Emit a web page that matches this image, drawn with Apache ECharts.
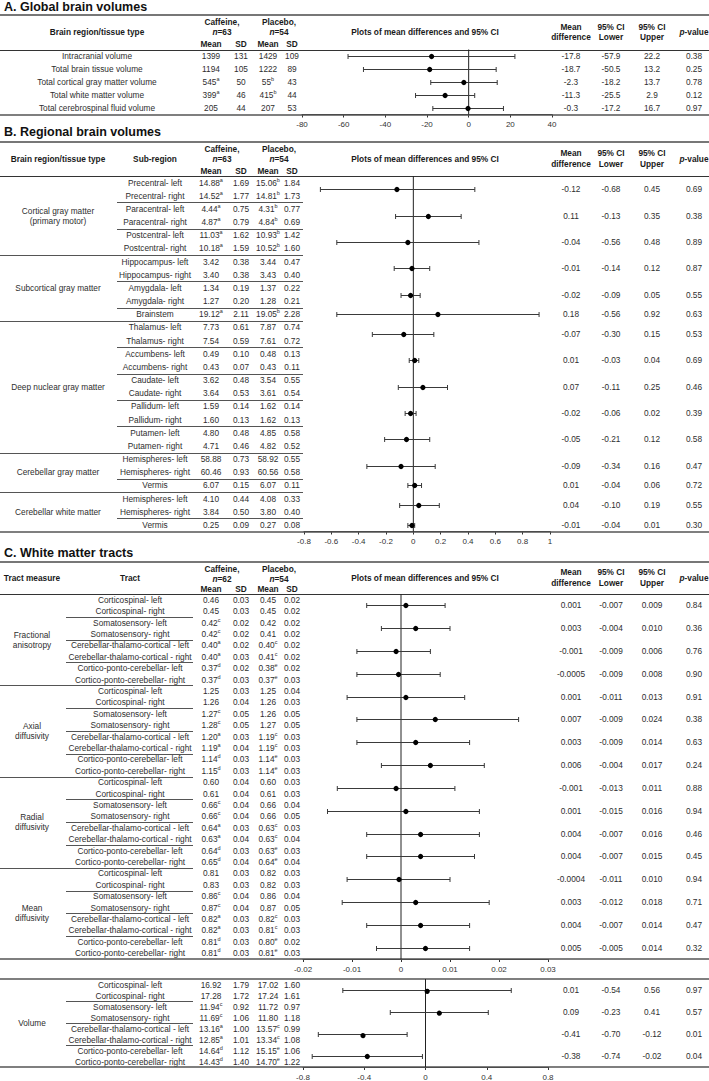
<!DOCTYPE html>
<html>
<head>
<meta charset="utf-8">
<script src="https://cdn.jsdelivr.net/npm/echarts@6/dist/echarts.min.js"></script>
<style>
  html, body { margin: 0; padding: 0; background: #fff; }
  #main { width: 709px; height: 1081px; }
</style>
</head>
<body>
<div id="main"></div>
<script>
// ---- A. Global brain volumes ----
var regionsA = ['Intracranial volume', 'Total brain tissue volume', 'Total cortical gray matter volume', 'Total white matter volume', 'Total cerebrospinal fluid volume']
var cafMeanA = ['1399', '1194', '545a', '399a', '205']
var cafSdA = ['131', '105', '50', '46', '44']
var plaMeanA = ['1429', '1222', '55b', '415b', '207']
var plaSdA = ['109', '89', '43', '44', '53']
var diffA = ['-17.8', '-18.7', '-2.3', '-11.3', '-0.3']
var lowerA = ['-57.9', '-50.5', '-18.2', '-25.5', '-17.2']
var upperA = ['22.2', '13.2', '13.7', '2.9', '16.7']
var pA = ['0.38', '0.25', '0.78', '0.12', '0.97']

// ---- B. Regional brain volumes ----
var groupsB = ['Cortical gray matter\n(primary motor)', 'Subcortical gray matter', 'Deep nuclear gray matter', 'Cerebellar gray matter', 'Cerebellar white matter']
var groupSizeB = [6, 5, 10, 3, 3]
var subRegionsB = ['Precentral- left', 'Precentral- right', 'Paracentral- left', 'Paracentral- right', 'Postcentral- left', 'Postcentral- right',
  'Hippocampus- left', 'Hippocampus- right', 'Amygdala- left', 'Amygdala- right', 'Brainstem',
  'Thalamus- left', 'Thalamus- right', 'Accumbens- left', 'Accumbens- right', 'Caudate- left', 'Caudate- right',
  'Pallidum- left', 'Pallidum- right', 'Putamen- left', 'Putamen- right',
  'Hemispheres- left', 'Hemispheres- right', 'Vermis', 'Hemispheres- left', 'Hemispheres- right', 'Vermis']
var cafMeanB = ['14.88a', '14.52a', '4.44a', '4.87a', '11.03a', '10.18a', '3.42', '3.40', '1.34', '1.27', '19.12a',
  '7.73', '7.54', '0.49', '0.43', '3.62', '3.64', '1.59', '1.60', '4.80', '4.71', '58.88', '60.46', '6.07', '4.10', '3.84', '0.25']
var cafSdB = ['1.69', '1.77', '0.75', '0.79', '1.62', '1.59', '0.38', '0.38', '0.19', '0.20', '2.11',
  '0.61', '0.59', '0.10', '0.07', '0.48', '0.53', '0.14', '0.13', '0.48', '0.46', '0.73', '0.93', '0.15', '0.44', '0.50', '0.09']
var plaMeanB = ['15.06b', '14.81b', '4.31b', '4.84b', '10.93b', '10.52b', '3.44', '3.43', '1.37', '1.28', '19.05b',
  '7.87', '7.61', '0.48', '0.43', '3.54', '3.61', '1.62', '1.62', '4.85', '4.82', '58.92', '60.56', '6.07', '4.08', '3.80', '0.27']
var plaSdB = ['1.84', '1.73', '0.77', '0.69', '1.42', '1.60', '0.47', '0.40', '0.22', '0.21', '2.28',
  '0.74', '0.72', '0.13', '0.11', '0.55', '0.54', '0.14', '0.13', '0.58', '0.52', '0.55', '0.58', '0.11', '0.33', '0.40', '0.08']
var spanB = [2, 2, 2, 2, 2, 1, 2, 2, 2, 2, 2, 2, 1, 2, 1]
var diffB = ['-0.12', '0.11', '-0.04', '-0.01', '-0.02', '0.18', '-0.07', '0.01', '0.07', '-0.02', '-0.05', '-0.09', '0.01', '0.04', '-0.01']
var lowerB = ['-0.68', '-0.13', '-0.56', '-0.14', '-0.09', '-0.56', '-0.30', '-0.03', '-0.11', '-0.06', '-0.21', '-0.34', '-0.04', '-0.10', '-0.04']
var upperB = ['0.45', '0.35', '0.48', '0.12', '0.05', '0.92', '0.15', '0.04', '0.25', '0.02', '0.12', '0.16', '0.06', '0.19', '0.01']
var pB = ['0.69', '0.38', '0.89', '0.87', '0.55', '0.63', '0.53', '0.69', '0.46', '0.39', '0.58', '0.47', '0.72', '0.55', '0.30']

// ---- C. White matter tracts ----
var measuresC = ['Fractional\nanisotropy', 'Axial\ndiffusivity', 'Radial\ndiffusivity', 'Mean\ndiffusivity', 'Volume']
var tractsC = ['Corticospinal- left', 'Corticospinal- right', 'Somatosensory- left', 'Somatosensory- right',
  'Cerebellar-thalamo-cortical - left', 'Cerebellar-thalamo-cortical - right', 'Cortico-ponto-cerebellar- left', 'Cortico-ponto-cerebellar- right']
var cafMeanC = [
  '0.46', '0.45', '0.42c', '0.42c', '0.40a', '0.40a', '0.37d', '0.37d',
  '1.25', '1.26', '1.27c', '1.28c', '1.20a', '1.19a', '1.14d', '1.15d',
  '0.60', '0.61', '0.66c', '0.66c', '0.64a', '0.63a', '0.64d', '0.65d',
  '0.81', '0.83', '0.86c', '0.87c', '0.82a', '0.82a', '0.81d', '0.81d',
  '16.92', '17.28', '11.94c', '11.69c', '13.16a', '12.85a', '14.64d', '14.43d']
var cafSdC = [
  '0.03', '0.03', '0.02', '0.02', '0.02', '0.03', '0.02', '0.03',
  '0.03', '0.04', '0.05', '0.05', '0.03', '0.04', '0.03', '0.03',
  '0.04', '0.04', '0.04', '0.04', '0.03', '0.04', '0.03', '0.04',
  '0.03', '0.03', '0.04', '0.04', '0.03', '0.03', '0.03', '0.03',
  '1.79', '1.72', '0.92', '1.06', '1.00', '1.01', '1.12', '1.40']
var plaMeanC = [
  '0.45', '0.45', '0.42', '0.41', '0.40c', '0.41c', '0.38e', '0.37e',
  '1.25', '1.26', '1.26', '1.27', '1.19c', '1.19c', '1.14e', '1.14e',
  '0.60', '0.61', '0.66', '0.66', '0.63c', '0.63c', '0.63e', '0.64e',
  '0.82', '0.82', '0.86', '0.87', '0.82c', '0.81c', '0.80e', '0.81e',
  '17.02', '17.24', '11.72', '11.80', '13.57c', '13.34c', '15.15e', '14.70e']
var plaSdC = [
  '0.02', '0.02', '0.02', '0.02', '0.02', '0.02', '0.02', '0.03',
  '0.04', '0.03', '0.05', '0.05', '0.03', '0.03', '0.03', '0.03',
  '0.03', '0.03', '0.04', '0.05', '0.03', '0.04', '0.03', '0.04',
  '0.03', '0.03', '0.04', '0.05', '0.03', '0.03', '0.02', '0.03',
  '1.60', '1.61', '0.97', '1.18', '0.99', '1.08', '1.06', '1.22']
var diffC = ['0.001', '0.003', '-0.001', '-0.0005', '0.001', '0.007', '0.003', '0.006',
  '-0.001', '0.001', '0.004', '0.004', '-0.0004', '0.003', '0.004', '0.005',
  '0.01', '0.09', '-0.41', '-0.38']
var lowerC = ['-0.007', '-0.004', '-0.009', '-0.009', '-0.011', '-0.009', '-0.009', '-0.004',
  '-0.013', '-0.015', '-0.007', '-0.007', '-0.011', '-0.012', '-0.007', '-0.005',
  '-0.54', '-0.23', '-0.70', '-0.74']
var upperC = ['0.009', '0.010', '0.006', '0.008', '0.013', '0.024', '0.014', '0.017',
  '0.011', '0.016', '0.016', '0.015', '0.010', '0.018', '0.014', '0.014',
  '0.56', '0.41', '-0.12', '-0.02']
var pC = ['0.84', '0.36', '0.76', '0.90', '0.91', '0.38', '0.63', '0.24',
  '0.88', '0.94', '0.46', '0.45', '0.94', '0.71', '0.47', '0.32',
  '0.97', '0.57', '0.01', '0.04']

// axis ticks: [min, max, interval]
var ticksA = [-80, 40, 20]
var ticksB = [-0.8, 1, 0.2]
var ticksC = [-0.02, 0.03, 0.01]
var ticksV = [-0.8, 0.8, 0.4]

var FONT = '"Liberation Sans", Arial, Helvetica, sans-serif'
var TXT = '#2e2e2e'
var HEAD = '#1a1a1a'
var FS = 8.3

var chart = echarts.init(document.getElementById('main'), null, { renderer: 'svg' })

// layout of the four plot panels
var grids = [
  { left: 302, top: 49.5, width: 250, height: 65 },
  { left: 304, top: 176, width: 246, height: 355.5 },
  { left: 303, top: 594, width: 245, height: 365 },
  { left: 303, top: 979, width: 245, height: 88 }
]
var rowCounts = [5, 27, 32, 8]
var ticks = [ticksA, ticksB, ticksC, ticksV]

function forestData(diff, lower, upper, span) {
  var out = []
  var start = 0
  for (var i = 0; i < diff.length; i++) {
    var s = span ? span[i] : 1
    out.push([+diff[i], +lower[i], +upper[i], start + (s - 1) / 2])
    start += s
  }
  return out
}

var twos = function(n) { var a = []; for (var i = 0; i < n; i++) a.push(2); return a }

var forest = [
  forestData(diffA, lowerA, upperA),
  forestData(diffB, lowerB, upperB, spanB),
  forestData(diffC.slice(0, 16), lowerC.slice(0, 16), upperC.slice(0, 16), twos(16)),
  forestData(diffC.slice(16), lowerC.slice(16), upperC.slice(16), twos(4))
]

function renderCI(params, api) {
  var y = api.value(3)
  var lo = api.coord([api.value(1), y])
  var hi = api.coord([api.value(2), y])
  var m = api.coord([api.value(0), y])
  var st = { stroke: '#3a3a3a', lineWidth: 1 }
  var yy = Math.round(lo[1]) + 0.5
  return {
    type: 'group',
    children: [
      { type: 'line', shape: { x1: lo[0], y1: yy, x2: hi[0], y2: yy }, style: st },
      { type: 'line', shape: { x1: lo[0], y1: yy - 2.5, x2: lo[0], y2: yy + 2.5 }, style: st },
      { type: 'line', shape: { x1: hi[0], y1: yy - 2.5, x2: hi[0], y2: yy + 2.5 }, style: st },
      { type: 'circle', shape: { cx: m[0], cy: yy, r: 2.6 }, style: { fill: '#000' } }
    ]
  }
}

var xAxes = []
var yAxes = []
var series = []
for (var g = 0; g < 4; g++) {
  xAxes.push({
    type: 'value', gridIndex: g, position: 'bottom',
    min: ticks[g][0], max: ticks[g][1], interval: ticks[g][2],
    axisLine: { onZero: false, lineStyle: { color: '#333', width: 1 } },
    axisTick: { length: 3, lineStyle: { color: '#333' } },
    axisLabel: { fontSize: 8, color: '#333', margin: 6, fontFamily: FONT },
    splitLine: { show: false }
  })
  yAxes.push({ type: 'value', gridIndex: g, min: -0.5, max: rowCounts[g] - 0.5, inverse: true, show: false })
  series.push({
    type: 'line', xAxisIndex: g, yAxisIndex: g, silent: true, symbol: 'none', z: 2,
    data: [[0, -0.5], [0, rowCounts[g] - 0.5]],
    lineStyle: { color: '#222', width: 1 }
  })
  series.push({
    type: 'custom', xAxisIndex: g, yAxisIndex: g, silent: true, z: 3,
    renderItem: renderCI,
    encode: { x: [0, 1, 2], y: 3 },
    data: forest[g]
  })
}

chart.setOption({
  animation: false,
  grid: grids,
  xAxis: xAxes,
  yAxis: yAxes,
  series: series
})

// ---- table text and rules ----
function py(g, v) { return chart.convertToPixel({ yAxisIndex: g }, v) }

var els = []

function txt(x, y, text, o) {
  o = o || {}
  var size = o.size || FS
  var style = {
    text: text,
    fontSize: size,
    fontFamily: FONT,
    fontWeight: o.bold ? 'bold' : 'normal',
    fill: o.color || TXT,
    align: o.align || 'center',
    verticalAlign: 'middle',
    lineHeight: o.lineHeight || 10
  }
  if (o.rich) style.rich = o.rich
  els.push({ type: 'text', x: x, y: y, silent: true, style: style })
}

function rich(bold) {
  var w = bold ? 'bold' : 'normal'
  var c = bold ? HEAD : TXT
  return {
    m: { fontSize: FS, fontFamily: FONT, fontWeight: w, fill: c, lineHeight: 12 },
    s: { fontSize: 5.5, fontFamily: FONT, fill: c, lineHeight: 5, verticalAlign: 'top' },
    i: { fontSize: FS, fontFamily: FONT, fontWeight: w, fontStyle: 'italic', fill: c, lineHeight: 12 }
  }
}

function val(x, y, s) {
  var m = /^(.*?\d)([a-e])$/.exec(s)
  if (!m) return txt(x, y, s)
  txt(x, y, '{m|' + m[1] + '}{s|' + m[2] + '}', { rich: rich(false) })
}

function hline(x1, x2, y, w, c) {
  var yy = w % 2 === 1 ? Math.round(y) + 0.5 : Math.round(y)
  els.push({ type: 'line', silent: true, z: 1, shape: { x1: x1, y1: yy, x2: x2, y2: yy }, style: { stroke: c, lineWidth: w } })
}

var COLS = [211, 241, 268, 292]
var RCOLS = [571, 611, 652, 694]

function header(title, titleY, top, line, leftHeads, nCaf, nPla) {
  txt(4, titleY, title, { bold: true, size: 12.5, align: 'left', color: '#111' })
  hline(0, 709, top, 2, '#777')
  hline(0, 709, line, 1, '#333')
  var mid = (top + line) / 2
  leftHeads.forEach(function(h) { txt(h[0], mid, h[1], { bold: true, color: HEAD }) })
  txt(222, top + 6.5, 'Caffeine,', { bold: true, color: HEAD })
  txt(279, top + 6.5, 'Placebo,', { bold: true, color: HEAD })
  txt(222, top + 16.5, '{i|n}{m|=' + nCaf + '}', { rich: rich(true) })
  txt(279, top + 16.5, '{i|n}{m|=' + nPla + '}', { rich: rich(true) })
  txt(COLS[0], line - 5.5, 'Mean', { bold: true, color: HEAD })
  txt(COLS[1], line - 5.5, 'SD', { bold: true, color: HEAD })
  txt(COLS[2], line - 5.5, 'Mean', { bold: true, color: HEAD })
  txt(COLS[3], line - 5.5, 'SD', { bold: true, color: HEAD })
  txt(425, mid, 'Plots of mean differences and 95% CI', { bold: true, color: HEAD })
  txt(RCOLS[0], mid - 0.5, 'Mean\ndifference', { bold: true, color: HEAD, lineHeight: 10.5 })
  txt(RCOLS[1], mid - 0.5, '95% CI\nLower', { bold: true, color: HEAD, lineHeight: 10.5 })
  txt(RCOLS[2], mid - 0.5, '95% CI\nUpper', { bold: true, color: HEAD, lineHeight: 10.5 })
  txt(RCOLS[3], mid, '{i|p}{m|-value}', { rich: rich(true) })
}

function numbers(g, r, y, cm, cs, pm, ps) {
  val(COLS[0], y, cm[r]); val(COLS[1], y, cs[r]); val(COLS[2], y, pm[r]); val(COLS[3], y, ps[r])
}

function rightCols(g, data, i, diff, lower, upper, p) {
  var y = py(g, data[3])
  txt(RCOLS[0], y, diff[i]); txt(RCOLS[1], y, lower[i]); txt(RCOLS[2], y, upper[i]); txt(RCOLS[3], y, p[i])
}

// A
header('A. Global brain volumes', 7, 15, 49.5, [[97, 'Brain region/tissue type']], 63, 54)
regionsA.forEach(function(name, r) {
  var y = py(0, r)
  txt(97, y, name)
  numbers(0, r, y, cafMeanA, cafSdA, plaMeanA, plaSdA)
})
forest[0].forEach(function(d, i) { rightCols(0, d, i, diffA, lowerA, upperA, pA) })
hline(0, 709, py(0, 4.5), 1.5, '#555')

// B
header('B. Regional brain volumes', 132, 142, 176, [[58, 'Brain region/tissue type'], [155, 'Sub-region']], 63, 54)
subRegionsB.forEach(function(name, r) {
  var y = py(1, r)
  txt(155, y, name)
  numbers(1, r, y, cafMeanB, cafSdB, plaMeanB, plaSdB)
})
var gStart = 0
var groupEnds = {}
groupsB.forEach(function(name, k) {
  var n = groupSizeB[k]
  txt(58, py(1, gStart + (n - 1) / 2), name)
  gStart += n
  groupEnds[gStart] = true
})
forest[1].forEach(function(d, i) { rightCols(1, d, i, diffB, lowerB, upperB, pB) })
var end = 0
spanB.forEach(function(s) {
  end += s
  if (end >= subRegionsB.length) return
  if (groupEnds[end]) hline(0, 303, py(1, end - 0.5), 1, '#555')
  else hline(117, 303, py(1, end - 0.5), 1, '#555')
})
hline(0, 709, py(1, 26.5), 1.5, '#555')

// C
header('C. White matter tracts', 553, 562, 594, [[32, 'Tract measure'], [130, 'Tract']], 62, 54)
for (var k = 0; k < measuresC.length; k++) {
  var g2 = k < 4 ? 2 : 3
  var base = k < 4 ? k * 8 : 0
  txt(32, py(g2, base + 3.5), measuresC[k])
  for (var t = 0; t < 8; t++) {
    var r = k * 8 + t
    var y = py(g2, base + t)
    txt(130, y, tractsC[t])
    numbers(g2, r, y, cafMeanC, cafSdC, plaMeanC, plaSdC)
    if (t % 2 === 1 && t < 7) hline(66, 193, py(g2, base + t + 0.5), 1, '#555')
  }
  if (k < 3) hline(0, 193, py(g2, base + 7.5), 1, '#555')
}
forest[2].forEach(function(d, i) { rightCols(2, d, i, diffC, lowerC, upperC, pC) })
forest[3].forEach(function(d, i) { rightCols(3, d, i + 16, diffC, lowerC, upperC, pC) })
hline(0, 709, py(2, 31.5), 1.5, '#555')
hline(0, 709, py(3, -0.5), 1.5, '#555')
hline(0, 709, py(3, 7.5), 1.5, '#555')

chart.setOption({ graphic: els })
</script>
</body>
</html>
